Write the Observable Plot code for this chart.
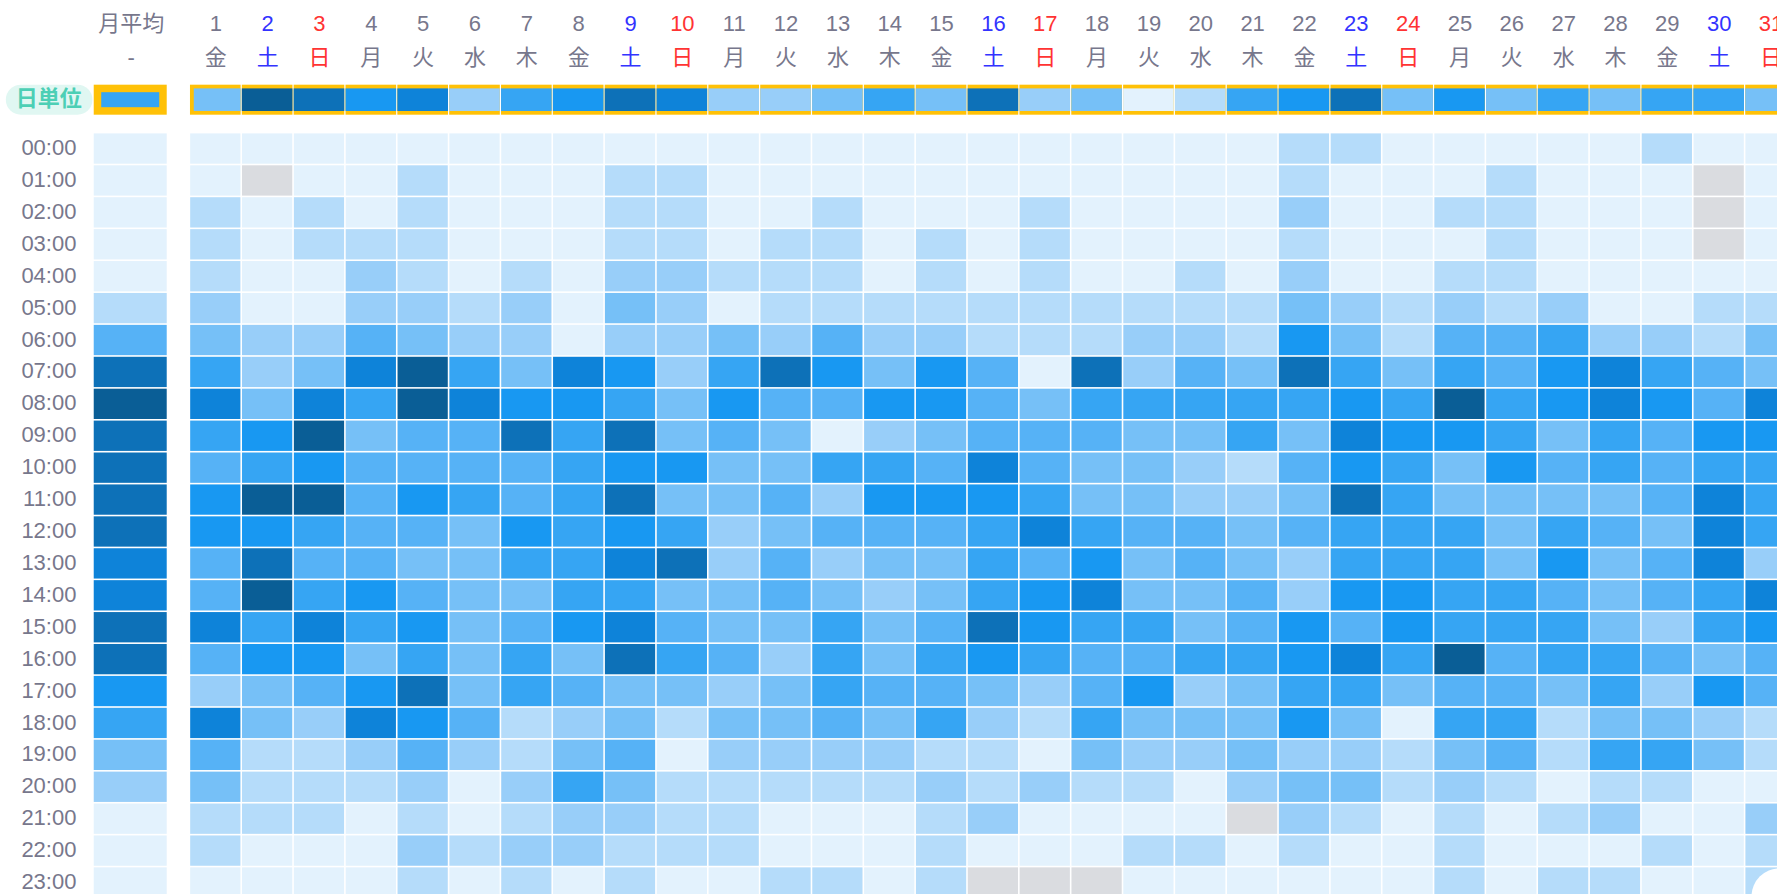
<!DOCTYPE html>
<html lang="ja">
<head>
<meta charset="utf-8">
<title>月別ヒートマップ</title>
<script src="https://cdn.jsdelivr.net/npm/d3@7"></script>
<script src="https://cdn.jsdelivr.net/npm/@observablehq/plot@0.6"></script>
<style>
  html, body { margin: 0; padding: 0; background: #fff; overflow: hidden; }
  svg { display: block; }
</style>
</head>
<body>
<div id="chart"></div>
<script>
// -1 = no data (grey); 0..9 = intensity level
const NA = -1;
const days = d3.range(1, 32);
const weekdays = ["金","土","日","月","火","水","木","金","土","日","月","火","水","木","金","土","日","月","火","水","木","金","土","日","月","火","水","木","金","土","日"];
const hourLabels = ["00:00","01:00","02:00","03:00","04:00","05:00","06:00","07:00","08:00","09:00","10:00","11:00","12:00","13:00","14:00","15:00","16:00","17:00","18:00","19:00","20:00","21:00","22:00","23:00"];
const avgHeader = "月平均";
const avgSub = "-";
const rowTitle = "日単位";
const monthlyAvgDaily = 5;
const dailySummary = [3,9,8,6,7,2,5,6,8, 7,2,2,3,5,3,8,2,3,0,1, 5,6,8,3,6,3,5,3,5,5,3];
const avgByHour = [0,0,0,0,0,1,4,8,9,8,8,8,8,7,7,8,8,6,5,3,2,0,0,0];
const h00 = [0,0,0,0,0,0,0,0,0, 0,0,0,0,0,0,0,0,0,0,0, 0,1,1,0,0,0,0,0,1,0,0];
const h01 = [0,NA,0,0,1,0,0,0,1, 1,0,0,0,0,0,0,0,0,0,0, 0,1,0,0,0,1,0,0,0,NA,0];
const h02 = [1,0,1,0,1,0,0,0,1, 1,0,0,1,0,0,0,1,0,0,0, 0,2,0,0,1,1,0,0,0,NA,0];
const h03 = [1,0,1,1,1,0,0,0,1, 1,0,1,1,0,1,0,1,0,0,0, 0,1,0,0,0,1,0,0,0,NA,0];
const h04 = [1,0,0,2,1,0,1,0,2, 2,1,1,1,0,1,0,1,0,0,1, 0,2,0,0,1,1,0,0,0,0,0];
const h05 = [2,0,0,2,2,1,2,0,3, 2,0,1,1,1,1,1,1,1,1,1, 1,3,2,1,2,1,2,0,0,1,1];
const h06 = [3,2,2,4,3,2,2,0,2, 2,3,2,4,2,2,1,1,1,2,2, 1,6,3,1,4,4,5,2,2,1,3];
const h07 = [5,2,3,7,9,5,3,7,6, 2,5,8,6,3,6,4,0,8,2,4, 3,8,5,3,5,4,6,7,5,4,3];
const h08 = [7,3,7,5,9,7,6,6,5, 3,6,4,4,6,6,4,3,5,5,5, 5,5,6,5,9,5,6,7,6,4,7];
const h09 = [5,6,9,3,4,4,8,5,8, 3,4,3,0,2,3,4,4,4,3,3, 5,3,7,6,6,5,3,5,4,6,6];
const h10 = [4,5,6,4,4,4,4,5,6, 6,3,3,5,5,4,7,4,3,3,2, 1,4,6,5,3,6,4,5,4,5,5];
const h11 = [6,9,9,4,6,5,4,5,8, 3,3,4,2,6,6,6,5,3,3,2, 2,3,8,5,3,3,3,3,4,7,5];
const h12 = [6,6,5,4,4,3,6,5,6, 5,2,3,4,4,4,5,7,5,4,4, 3,4,5,5,5,3,5,4,3,7,5];
const h13 = [4,8,4,4,3,3,5,5,7, 8,2,4,2,3,3,5,4,6,3,4, 3,2,5,5,5,3,6,3,4,7,2];
const h14 = [4,9,5,6,4,3,3,5,5, 3,3,4,3,2,3,5,6,7,3,3, 4,2,6,6,5,5,4,3,4,5,7];
const h15 = [7,5,7,5,6,3,4,6,7, 4,3,3,5,3,4,8,6,5,5,3, 4,6,4,6,5,5,5,3,2,5,6];
const h16 = [4,6,6,3,5,3,5,3,8, 5,4,2,5,3,5,6,5,4,4,5, 5,6,7,5,9,4,5,5,4,3,4];
const h17 = [2,3,4,6,8,3,5,4,3, 3,2,3,5,4,4,3,2,4,6,2, 3,5,5,3,4,4,3,5,2,6,4];
const h18 = [7,3,2,7,6,4,1,2,3, 1,3,3,4,3,5,2,1,5,3,3, 3,6,3,0,5,5,1,3,3,2,1];
const h19 = [4,1,1,2,4,2,1,3,4, 0,2,2,2,2,1,1,0,3,2,2, 3,2,2,1,3,4,1,5,5,3,1];
const h20 = [3,1,1,1,2,0,2,5,3, 1,1,1,1,1,2,1,2,1,1,0, 2,3,3,1,2,1,0,1,1,0,0];
const h21 = [1,1,1,0,1,0,1,2,2, 1,1,0,0,0,1,2,0,0,0,0, NA,2,1,0,1,0,1,2,0,0,2];
const h22 = [1,0,0,0,2,1,2,2,1, 1,1,0,0,0,1,0,0,0,1,1, 0,1,0,0,1,0,0,0,1,0,1];
const h23 = [0,0,0,0,1,0,1,0,1, 0,0,1,1,0,1,NA,NA,NA,0,0, 0,0,0,0,1,0,1,1,0,0,1];
const hourRows = [h00,h01,h02,h03,h04,h05,h06,h07,h08,h09,h10,h11,h12,h13,h14,h15,h16,h17,h18,h19,h20,h21,h22,h23];

const levels = [NA,0,1,2,3,4,5,6,7,8,9];
const palette = ["#dadce0","#e3f2fd","#b5dcfa","#98cef9","#76c0f7","#56b2f6","#36a5f3","#1898f2","#0e83d9","#0d71b8","#0a5e96"];
const gold = "#ffc107";
const ink = "#77778c";
const dayInk = (w) => w === "土" ? "#3333ff" : w === "日" ? "#ff3333" : ink;

// layout expressed in scale units: x unit = one day column, y unit = one hour row
const avgX1 = -1.345, avgX2 = 0.063, avgXC = -0.631;
const labelX = -1.688, pillX1 = -3.04, pillX2 = -1.37, pillXC = -2.22;
const sumY1 = -1.501, sumY2 = -0.561, sumYC = -1.031;
const dayNumY = -3.394, weekdayY = -2.338;

const hourCells = hourRows.flatMap((row, h) => row.map((v, i) => ({day: days[i], h, v})));
const avgCells = avgByHour.map((v, h) => ({h, v}));
const summaryCells = dailySummary.map((v, i) => ({day: days[i], v}));
const rest = summaryCells.slice(1), first = summaryCells.slice(0, 1);
const textFont = {fontFamily: "'Liberation Sans','Noto Sans CJK JP',sans-serif", fontSize: 22, dy: -1};

const rectDay = {x1: d => d.day - 0.5, x2: d => d.day + 0.5, insetLeft: 0.6, insetRight: 0.6};
const sumY = {y1: () => sumY1, y2: () => sumY2};

const chart = Plot.plot({
  width: 1777, height: 894,
  marginTop: 0, marginRight: 0, marginBottom: 0, marginLeft: 0,
  style: {background: "#fff"},
  x: {domain: [-3.153, 31.125], range: [0, 1777], axis: null},
  y: {domain: [-4.155, 23.86], range: [0, 894], axis: null},
  color: {type: "ordinal", domain: levels, range: palette},
  marks: [
    // hour grid
    Plot.rect(hourCells, {...rectDay, y1: d => d.h, y2: d => d.h + 1, inset: 0, insetLeft: 0.8, insetRight: 0.8, insetTop: 0.8, insetBottom: 0.8, fill: "v"}),
    Plot.rect(avgCells, {x1: () => avgX1, x2: () => avgX2, y1: d => d.h, y2: d => d.h + 1, insetTop: 0.8, insetBottom: 0.8, fill: "v"}),
    // 日単位 row
    Plot.rect([rowTitle], {x1: () => pillX1, x2: () => pillX2, ...sumY, fill: "#e0f7f2", rx: 15}),
    Plot.rect([monthlyAvgDaily], {x1: () => avgX1, x2: () => avgX2, ...sumY, fill: gold}),
    Plot.rect([monthlyAvgDaily], {x1: () => avgX1, x2: () => avgX2, ...sumY, inset: 7.5, fill: d => d}),
    Plot.rect(summaryCells, {...rectDay, ...sumY, fill: gold}),
    Plot.rect(rest, {...rectDay, ...sumY, insetTop: 3.7, insetBottom: 3.7, fill: "v"}),
    Plot.rect(first, {...rectDay, ...sumY, insetLeft: 4.4, insetTop: 3.7, insetBottom: 3.7, fill: "v"}),
    // text
    Plot.text(hourLabels, {x: () => labelX, y: (d, i) => i + 0.5, text: d => d, textAnchor: "end", fill: {value: () => ink, scale: null}, ...textFont}),
    Plot.text(days, {x: d => d, y: () => dayNumY, text: d => String(d), fill: {value: d => dayInk(weekdays[d - 1]), scale: null}, ...textFont}),
    Plot.text(weekdays, {x: (d, i) => days[i], y: () => weekdayY, text: d => d, fill: {value: d => dayInk(d), scale: null}, ...textFont}),
    Plot.text([avgHeader], {x: () => avgXC, y: () => dayNumY, text: d => d, fill: {value: () => ink, scale: null}, ...textFont}),
    Plot.text([avgSub], {x: () => avgXC, y: () => weekdayY, text: d => d, fill: {value: () => ink, scale: null}, ...textFont}),
    Plot.text([rowTitle], {x: () => pillXC, y: () => sumYC, text: d => d, fill: {value: () => "#4ccfb5", scale: null}, fontWeight: "bold", ...textFont}),
    // floating button peeking in at the corner
    Plot.dot([0], {x: () => 31.164, y: () => 23.92, r: 28, fill: {value: () => "#fff", scale: null}, style: {filter: "drop-shadow(0 0 3px rgba(0,0,0,.2))"}})
  ]
});
document.getElementById("chart").append(chart);
</script>
</body>
</html>
